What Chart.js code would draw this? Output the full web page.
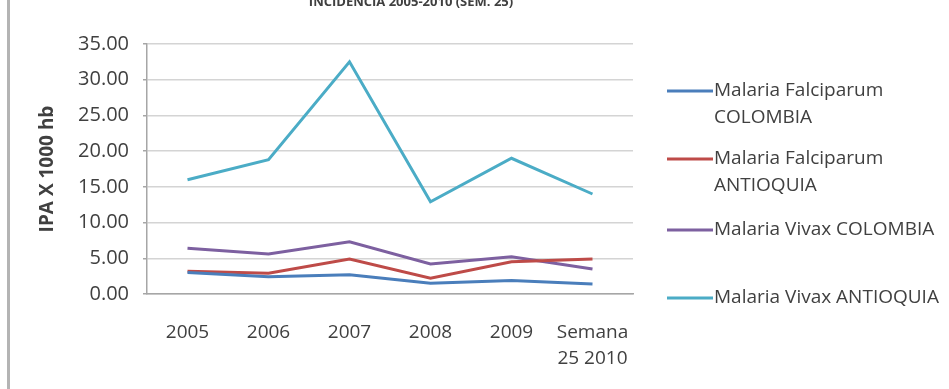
<!DOCTYPE html>
<html>
<head>
    <title>IPA Malaria Colombia / Antioquia</title>
    <script src="https://cdn.jsdelivr.net/npm/chart.js"></script>
    <style>
        body {
            margin: 0;
            background: #ffffff;
        }
        #wrap {
            position: relative;
            width: 949px;
            height: 389px;
        }
        /* grey rule down the left edge */
        #rule {
            position: absolute;
            left: 7px;
            top: 0;
            width: 3px;
            height: 389px;
            background: #b4b4b4;
        }
        canvas {
            position: absolute;
            left: 0;
            top: 0;
        }
    </style>
</head>
<body>

<div id="wrap">
    <div id="rule"></div>
    <canvas id="ipaChart" width="949" height="389"></canvas>
</div>

<script>
    // Categories (years)
    const years = ['2005', '2006', '2007', '2008', '2009', ['Semana', '25 2010']];

    // IPA x 1000 hb per series
    const falciparumColombia  = [3.0, 2.4, 2.7, 1.5, 1.9, 1.4];
    const falciparumAntioquia = [3.2, 2.9, 4.9, 2.2, 4.5, 4.9];
    const vivaxColombia       = [6.4, 5.6, 7.3, 4.2, 5.2, 3.5];
    const vivaxAntioquia      = [16.0, 18.8, 32.5, 12.9, 19.0, 14.0];

    // Legend text, one entry per series (split over lines)
    const seriesLabels = [
        ['Malaria Falciparum', 'COLOMBIA'],
        ['Malaria Falciparum', 'ANTIOQUIA'],
        ['Malaria Vivax COLOMBIA'],
        ['Malaria Vivax ANTIOQUIA']
    ];
    const seriesColors = ['#4a7ebb', '#be4b48', '#7d60a0', '#4bacc6'];

    const yTicks = [0, 5, 10, 15, 20, 25, 30, 35];

    const FONT = '"Open Sans", Lato, sans-serif';

    // Draws the legend on the right and the header strip at the top
    const sideLegend = {
        id: 'sideLegend',
        afterDraw(chart) {
            const ctx = chart.ctx;
            const rowY = [91, 159, 230, 298];
            ctx.save();
            ctx.font = '19px ' + FONT;
            ctx.textBaseline = 'middle';
            ctx.textAlign = 'left';
            chart.data.datasets.forEach((ds, i) => {
                const y = rowY[i];
                ctx.strokeStyle = ds.borderColor;
                ctx.lineWidth = 3;
                ctx.beginPath();
                ctx.moveTo(667, y);
                ctx.lineTo(713, y);
                ctx.stroke();
                ctx.fillStyle = '#404040';
                seriesLabels[i].forEach((line, j) => {
                    ctx.fillText(line, 714, y + j * 27);
                });
            });

            // header, mostly above the canvas edge
            ctx.font = 'bold 13px ' + FONT;
            ctx.textAlign = 'center';
            ctx.textBaseline = 'alphabetic';
            ctx.fillStyle = '#404040';
            ctx.fillText('INCIDENCIA 2005-2010 (SEM. 25)', 411, 6);
            ctx.restore();
        }
    };

    const ctx = document.getElementById('ipaChart').getContext('2d');
    const ipaChart = new Chart(ctx, {
        type: 'line',
        data: {
            labels: years,
            datasets: [
                { label: seriesLabels[0].join(' '), data: falciparumColombia },
                { label: seriesLabels[1].join(' '), data: falciparumAntioquia },
                { label: seriesLabels[2].join(' '), data: vivaxColombia },
                { label: seriesLabels[3].join(' '), data: vivaxAntioquia }
            ].map((ds, i) => Object.assign(ds, {
                borderColor: seriesColors[i],
                backgroundColor: seriesColors[i],
                borderWidth: 3,
                pointRadius: 0,
                tension: 0,
                fill: false
            }))
        },
        options: {
            responsive: false,
            animation: false,
            layout: {
                padding: { top: 44, right: 316, bottom: 0, left: 0 }
            },
            plugins: {
                legend: { display: false },
                tooltip: { enabled: false }
            },
            scales: {
                x: {
                    offset: true,
                    grid: { display: false, drawTicks: false },
                    border: { color: '#a6a6a6', width: 1.5 },
                    ticks: {
                        color: '#404040',
                        padding: 25,
                        maxRotation: 0,
                        font: { family: FONT, size: 19, lineHeight: 1.4 }
                    },
                    afterFit(scale) { scale.height = 95; }
                },
                y: {
                    min: 0,
                    max: 35,
                    afterBuildTicks(scale) {
                        scale.ticks = yTicks.map(v => ({ value: v }));
                    },
                    grid: {
                        color: '#d4d4d4',
                        lineWidth: 1.5,
                        tickColor: '#a6a6a6',
                        tickLength: 4
                    },
                    border: { color: '#a6a6a6', width: 1.5 },
                    ticks: {
                        color: '#404040',
                        padding: 14,
                        font: { family: FONT, size: 20 },
                        callback: v => v.toFixed(2)
                    },
                    title: {
                        display: true,
                        text: 'IPA X 1000 hb',
                        color: '#404040',
                        font: { family: FONT, size: 19, weight: 'bold' },
                        padding: { top: 36, bottom: 0 }
                    },
                    afterFit(scale) { scale.width = 147; }
                }
            }
        },
        plugins: [sideLegend]
    });
</script>
</body>
</html>
